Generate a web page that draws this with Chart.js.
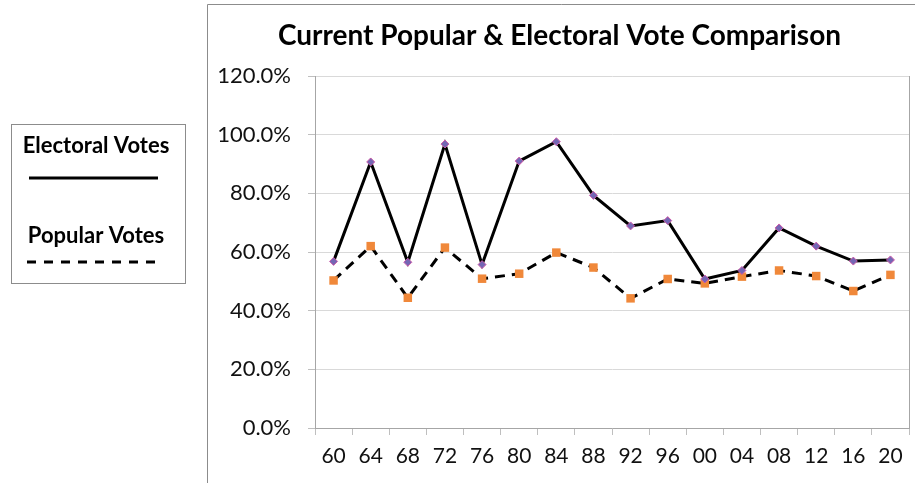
<!DOCTYPE html>
<html>
<head>
<meta charset="utf-8">
<script src="https://cdn.jsdelivr.net/npm/chart.js@4/dist/chart.umd.min.js"></script>
<style>
  html, body { margin: 0; padding: 0; background: #fff; }
  #wrap { position: relative; width: 915px; height: 483px; }
</style>
</head>
<body>
<div id="wrap"><canvas id="c" width="915" height="483"></canvas></div>
<script>
// Election years (two-digit)
const years = ['60','64','68','72','76','80','84','88','92','96','00','04','08','12','16','20'];
// Winner's share of the electoral vote, percent
const electoralVotes = [56.8, 90.7, 56.5, 96.8, 55.7, 91.0, 97.6, 79.3, 68.9, 70.7, 50.8, 53.7, 68.2, 62.0, 56.9, 57.3];
// Winner's share of the popular vote, percent
const popularVotes = [50.3, 62.0, 44.4, 61.5, 50.9, 52.6, 59.8, 54.7, 44.2, 50.8, 49.3, 51.6, 53.7, 51.8, 46.7, 52.2];
// Y axis tick values, percent
const yTicks = [0, 20, 40, 60, 80, 100, 120];

const FONT = 'Lato, "Open Sans", sans-serif';

// Frame around the chart and the side key
const framePlugin = {
  id: 'frame',
  afterDraw(chart) {
    const ctx = chart.ctx;
    const a = chart.chartArea;
    ctx.save();
    // outer chart border
    ctx.strokeStyle = '#8c8c8c';
    ctx.lineWidth = 1;
    ctx.beginPath();
    ctx.moveTo(207.5, 483);
    ctx.lineTo(207.5, 4.5);
    ctx.lineTo(915, 4.5);
    ctx.stroke();
    // plot area right edge
    ctx.strokeStyle = '#a6a6a6';
    ctx.beginPath();
    ctx.moveTo(Math.round(a.right) + 0.5, a.top);
    ctx.lineTo(Math.round(a.right) + 0.5, a.bottom);
    ctx.stroke();

    // side key
    ctx.strokeStyle = '#8c8c8c';
    ctx.strokeRect(11.5, 124.5, 174, 159);
    ctx.fillStyle = '#000';
    ctx.font = 'bold 22px ' + FONT;
    ctx.textAlign = 'center';
    ctx.textBaseline = 'middle';
    ctx.fillText('Electoral Votes', 96, 146);
    ctx.fillText('Popular Votes', 96, 236);
    ctx.lineWidth = 3;
    ctx.strokeStyle = '#000';
    ctx.beginPath();
    ctx.moveTo(29, 178);
    ctx.lineTo(158, 178);
    ctx.stroke();
    ctx.setLineDash([9, 8]);
    ctx.beginPath();
    ctx.moveTo(27, 262);
    ctx.lineTo(155, 262);
    ctx.stroke();
    ctx.restore();
  }
};

new Chart(document.getElementById('c'), {
  type: 'line',
  data: {
    labels: years,
    datasets: [
      {
        label: 'Electoral Votes',
        data: electoralVotes,
        borderColor: '#000',
        borderWidth: 3,
        pointStyle: 'rectRot',
        pointRadius: 4,
        pointBackgroundColor: '#7466b4',
        pointBorderColor: '#cc5aa8',
        pointBorderWidth: 1,
        tension: 0
      },
      {
        label: 'Popular Votes',
        data: popularVotes,
        borderColor: '#000',
        borderWidth: 3,
        borderDash: [10, 7],
        pointStyle: 'rect',
        pointRadius: 6,
        pointBackgroundColor: '#f0883a',
        pointBorderColor: '#f0883a',
        pointBorderWidth: 0,
        tension: 0
      }
    ]
  },
  options: {
    responsive: false,
    animation: false,
    events: [],
    layout: { padding: { left: 207, right: 3, top: 0, bottom: 0 } },
    plugins: {
      legend: { display: false },
      tooltip: { enabled: false },
      title: {
        display: true,
        text: 'Current Popular & Electoral Vote Comparison',
        color: '#000',
        font: { family: FONT, size: 28, weight: 'bold', lineHeight: 1.2 },
        padding: { top: 19, bottom: 23.4 }
      }
    },
    scales: {
      x: {
        offset: true,
        grid: {
          display: true,
          offset: true,
          drawOnChartArea: false,
          drawTicks: true,
          tickLength: 7,
          color: '#bfbfbf'
        },
        border: { display: true, color: '#a6a6a6', width: 1 },
        ticks: {
          color: '#111',
          font: { family: FONT, size: 21 },
          padding: 9,
          maxRotation: 0,
          autoSkip: false
        },
        afterFit(s) { s.height = 55; }
      },
      y: {
        min: 0,
        max: 120,
        afterBuildTicks(s) { s.ticks = yTicks.map(v => ({ value: v })); },
        grid: {
          color: '#d9d9d9',
          lineWidth: 1,
          drawTicks: true,
          tickLength: 7,
          tickColor: '#bfbfbf'
        },
        border: { display: true, color: '#a6a6a6', width: 1 },
        ticks: {
          color: '#111',
          font: { family: FONT, size: 22 },
          padding: 17,
          callback: v => v.toFixed(1) + '%'
        },
        afterFit(s) { s.width = 108; }
      }
    }
  },
  plugins: [framePlugin]
});
</script>
</body>
</html>
